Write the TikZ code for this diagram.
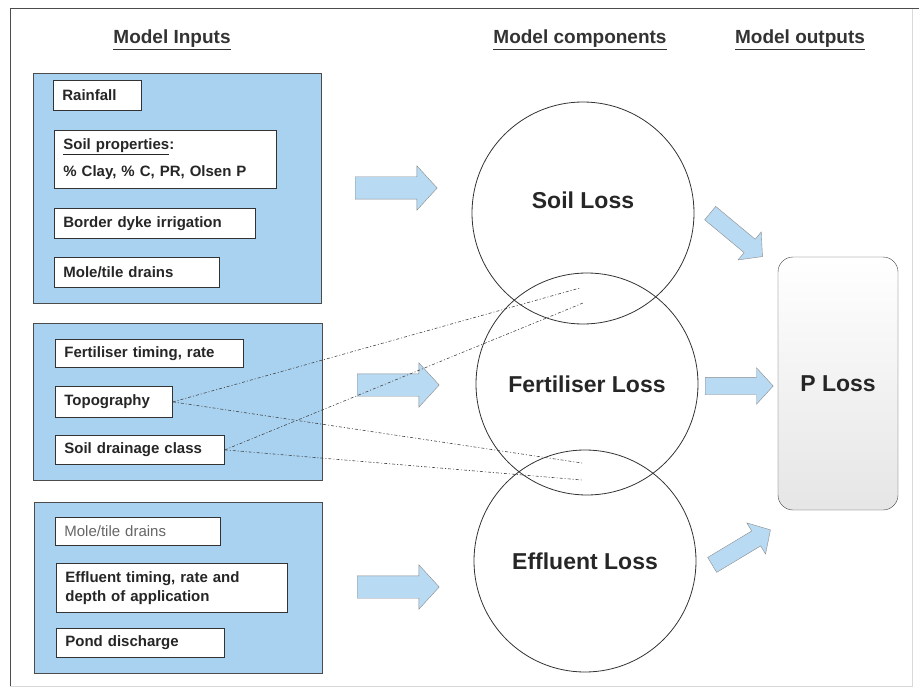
\documentclass[tikz,border=0pt]{standalone}
\usepackage{fontspec}
\setmainfont{Liberation Sans}
\usetikzlibrary{shapes.arrows}
\definecolor{inblue}{RGB}{168,210,240}
\definecolor{arrowblue}{RGB}{184,218,242}
\definecolor{linegray}{RGB}{70,70,70}
\tikzset{
  heading/.style={font=\fontsize{19}{22}\selectfont\bfseries,text=black!80},
  group/.style={draw=black!70,fill=inblue,anchor=north west,inner sep=0pt},
  inbox/.style={draw=black!80,thick,fill=white,anchor=north west,align=left,inner xsep=9pt,inner ysep=0pt,
    font=\fontsize{15}{18}\selectfont\bfseries,text=black!85},
  comp/.style={circle,draw=black!80,line width=0.8pt,minimum size=222pt,inner sep=0pt,
    font=\fontsize{23}{26}\selectfont\bfseries,text=black!85},
  outbox/.style={draw=black!75,rounded corners=15pt,minimum width=120pt,minimum height=253pt,
    top color=white,bottom color=black!10,font=\fontsize{23}{26}\selectfont\bfseries,text=black!85},
  flow/.style={single arrow,draw=black!45,fill=arrowblue,anchor=tail,minimum height=82pt,minimum width=44pt,
    single arrow head extend=11pt,single arrow tip angle=95,inner xsep=0pt,inner ysep=11pt},
  smallflow/.style={flow,minimum height=68pt,minimum width=36pt,single arrow head extend=9.5pt,inner ysep=8.5pt},
  link/.style={draw=linegray,dash pattern=on 3pt off 2pt on 1pt off 2pt,line width=0.6pt},
}
\begin{document}
\begin{tikzpicture}[x=1pt,y=-1pt,>=latex]
  \useasboundingbox (0,0) rectangle (919,690);
  % frame
  \draw[black!15] (912,8) -- (912,686) -- (10,686);
  \draw[black!70] (10,686) -- (10,8) -- (919,8);
  % headings
  \node[heading] (hIn) at (172,40) {\underline{Model Inputs}};
  \node[heading] (hComp) at (580,40) {\underline{Model components}};
  \node[heading] (hOut) at (800,40) {\underline{Model outputs}};
  % input groups
  \node[group,minimum width=288pt,minimum height=230pt] (grpA) at (33,73) {};
  \node[group,minimum width=289pt,minimum height=157pt] (grpB) at (33,323) {};
  \node[group,minimum width=288pt,minimum height=171pt] (grpC) at (34,502) {};
  % soil inputs
  \node[inbox,text width=70pt,minimum height=30pt] (rain) at (53,80) {Rainfall};
  \node[inbox,text width=204pt,minimum height=58pt] (props) at (54,130)
    {\underline{Soil properties}:\\[9pt]\% Clay, \% C, PR, Olsen P};
  \node[inbox,text width=183pt,minimum height=30pt] (dyke) at (54,208) {Border dyke irrigation};
  \node[inbox,text width=147pt,minimum height=30pt] (moleA) at (54,257) {Mole/tile drains};
  % fertiliser inputs
  \node[inbox,text width=170pt,minimum height=28pt] (fert) at (55,339) {Fertiliser timing, rate};
  \node[inbox,text width=99pt,minimum height=31pt] (topo) at (55,386) {Topography};
  \node[inbox,text width=151pt,minimum height=29pt] (drain) at (55,435) {Soil drainage class};
  % effluent inputs
  \node[inbox,text width=147pt,minimum height=28pt,font=\fontsize{15}{18}\selectfont\mdseries,text=black!60] (moleB) at (55,517) {Mole/tile drains};
  \node[inbox,text width=213pt,minimum height=49pt] (eff) at (56,563)
    {Effluent timing, rate and\\[1pt]depth of application};
  \node[inbox,text width=150pt,minimum height=29pt] (pond) at (56,628) {Pond discharge};
  % components
  \node[comp] (soil) at (583,213) {};
  \node[font=\fontsize{23}{26}\selectfont\bfseries,text=black!85] (soilTxt) at (583,200) {Soil Loss};
  \node[comp] (fertl) at (587,384) {Fertiliser Loss};
  \node[comp] (effl) at (585,561) {Effluent Loss};
  % output
  \node[outbox] (ploss) at (838,383.5) {P Loss};
  % block arrows
  \node[flow] (aA) at (355,188) {};
  \node[flow] (aB) at (357,385) {};
  \node[flow] (aC) at (357,587) {};
  \node[smallflow,rotate=-39.7] (aD) at (710,213) {};
  \node[smallflow] (aE) at (705,386) {};
  \node[smallflow,rotate=31] (aF) at (712,565) {};
  % dotted links
  \coordinate (eA) at (580,288);
  \coordinate (eB) at (583,303);
  \coordinate (eC) at (582,463);
  \coordinate (eD) at (582,480);
  \draw[link] (topo.east) -- (eA);
  \draw[link] (drain.east) -- (eB);
  \draw[link] (topo.east) -- (eC);
  \draw[link] (drain.east) -- (eD);
\end{tikzpicture}
\end{document}
